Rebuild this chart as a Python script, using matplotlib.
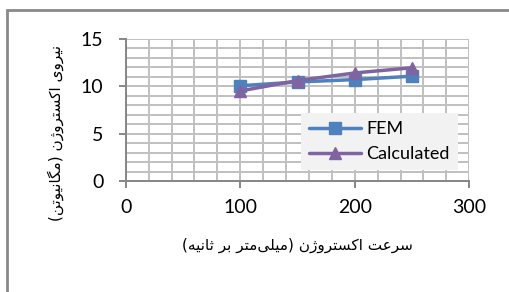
import matplotlib
matplotlib.use("Agg")
import matplotlib.pyplot as plt
from matplotlib.patches import Rectangle
from matplotlib.ticker import MultipleLocator

# ---- data ----
speed = [100, 150, 200, 250]
fem = [10.05, 10.45, 10.7, 11.06]
calculated = [9.5, 10.6, 11.4, 11.95]
series_names = ["FEM", "Calculated"]
x_ticks = [0, 100, 200, 300]
y_ticks = [0, 5, 10, 15]
x_label = "سرعت اکستروژن (میلی\u200cمتر بر ثانیه)"
y_label = "نیروی اکستروژن (مگانیوتن)"

# ---- simple Arabic/Persian shaping (presentation forms) ----
FORMS = {  # isolated, final, initial, medial
    "\u0627": ("\uFE8D", "\uFE8E", None, None),
    "\u0628": ("\uFE8F", "\uFE90", "\uFE91", "\uFE92"),
    "\u062A": ("\uFE95", "\uFE96", "\uFE97", "\uFE98"),
    "\u062B": ("\uFE99", "\uFE9A", "\uFE9B", "\uFE9C"),
    "\u0631": ("\uFEAD", "\uFEAE", None, None),
    "\u0698": ("\uFB8A", "\uFB8B", None, None),
    "\u0633": ("\uFEB1", "\uFEB2", "\uFEB3", "\uFEB4"),
    "\u0639": ("\uFEC9", "\uFECA", "\uFECB", "\uFECC"),
    "\u06A9": ("\uFB8E", "\uFB8F", "\uFB90", "\uFB91"),
    "\u06AF": ("\uFB92", "\uFB93", "\uFB94", "\uFB95"),
    "\u0644": ("\uFEDD", "\uFEDE", "\uFEDF", "\uFEE0"),
    "\u0645": ("\uFEE1", "\uFEE2", "\uFEE3", "\uFEE4"),
    "\u0646": ("\uFEE5", "\uFEE6", "\uFEE7", "\uFEE8"),
    "\u0647": ("\uFEE9", "\uFEEA", "\uFEEB", "\uFEEC"),
    "\u0648": ("\uFEED", "\uFEEE", None, None),
    "\u06CC": ("\uFBFC", "\uFBFD", "\uFBFE", "\uFBFF"),
}


def joins_next(c):
    return c in FORMS and FORMS[c][2] is not None


def shape(text):
    out = []
    n = len(text)
    for i, c in enumerate(text):
        if c not in FORMS:
            if c != "\u200c":
                out.append(c)
            continue
        prev = text[i - 1] if i > 0 else ""
        nxt = text[i + 1] if i + 1 < n else ""
        jp = joins_next(prev)
        jn = joins_next(c) and nxt in FORMS
        iso, fin, ini, med = FORMS[c]
        if jp and jn:
            out.append(med)
        elif jp:
            out.append(fin)
        elif jn:
            out.append(ini)
        else:
            out.append(iso)
    vis = "".join(reversed(out))
    return vis.translate(str.maketrans("()", ")("))


plt.rcParams["font.family"] = ["Lato", "DejaVu Sans"]

fig = plt.figure(figsize=(5.09, 2.92), dpi=100)
ax = fig.add_axes([0.247, 0.380, 0.675, 0.487])

blue = "#4f81bd"
purple = "#8064a2"
ax.plot(speed, fem, color=blue, lw=2.5, marker="s", ms=8, label=series_names[0],
        zorder=3, solid_capstyle="round")
ax.plot(speed, calculated, color=purple, lw=2.5, marker="^", ms=8,
        label=series_names[1], zorder=4, solid_capstyle="round")

ax.set_xlim(0, 300)
ax.set_ylim(0, 15)
ax.set_xticks(x_ticks)
ax.set_yticks(y_ticks)
ax.xaxis.set_minor_locator(MultipleLocator(20))
ax.yaxis.set_minor_locator(MultipleLocator(1))
ax.grid(True, which="both", color="#c0c0c0", lw=1.4, zorder=0)
ax.set_axisbelow(True)
for s in ["top", "right"]:
    ax.spines[s].set_visible(False)
for s in ["left", "bottom"]:
    ax.spines[s].set_color("#868686")
    ax.spines[s].set_linewidth(1.4)
ax.tick_params(which="major", direction="out", length=5, width=1.4,
               color="#868686", labelsize=14, labelcolor="black")
ax.tick_params(which="minor", length=0)
ax.tick_params(axis="x", pad=8)
ax.tick_params(axis="y", pad=11)

ax.set_xlabel(shape(x_label), family="DejaVu Sans", fontsize=11)
ax.xaxis.set_label_coords(0.5, -0.40)
ax.set_ylabel(shape(y_label), family="DejaVu Sans", fontsize=11)
ax.yaxis.set_label_coords(-0.18, 0.34)

leg = ax.legend(loc="lower right", bbox_to_anchor=(0.967, 0.077), fontsize=13,
                frameon=True, fancybox=False, handlelength=2.9,
                borderpad=0.45, labelspacing=0.5, handletextpad=0.3,
                borderaxespad=0)
leg.get_frame().set_facecolor("#f2f2f2")
leg.get_frame().set_edgecolor("none")
leg.get_frame().set_alpha(1)

fig.patches.append(Rectangle((7 / 509, -0.1), 1.2, (1 - 10 / 292) + 0.1,
                             transform=fig.transFigure, fill=False,
                             edgecolor="#898989", lw=2))

fig.savefig("out.png", dpi=100)
